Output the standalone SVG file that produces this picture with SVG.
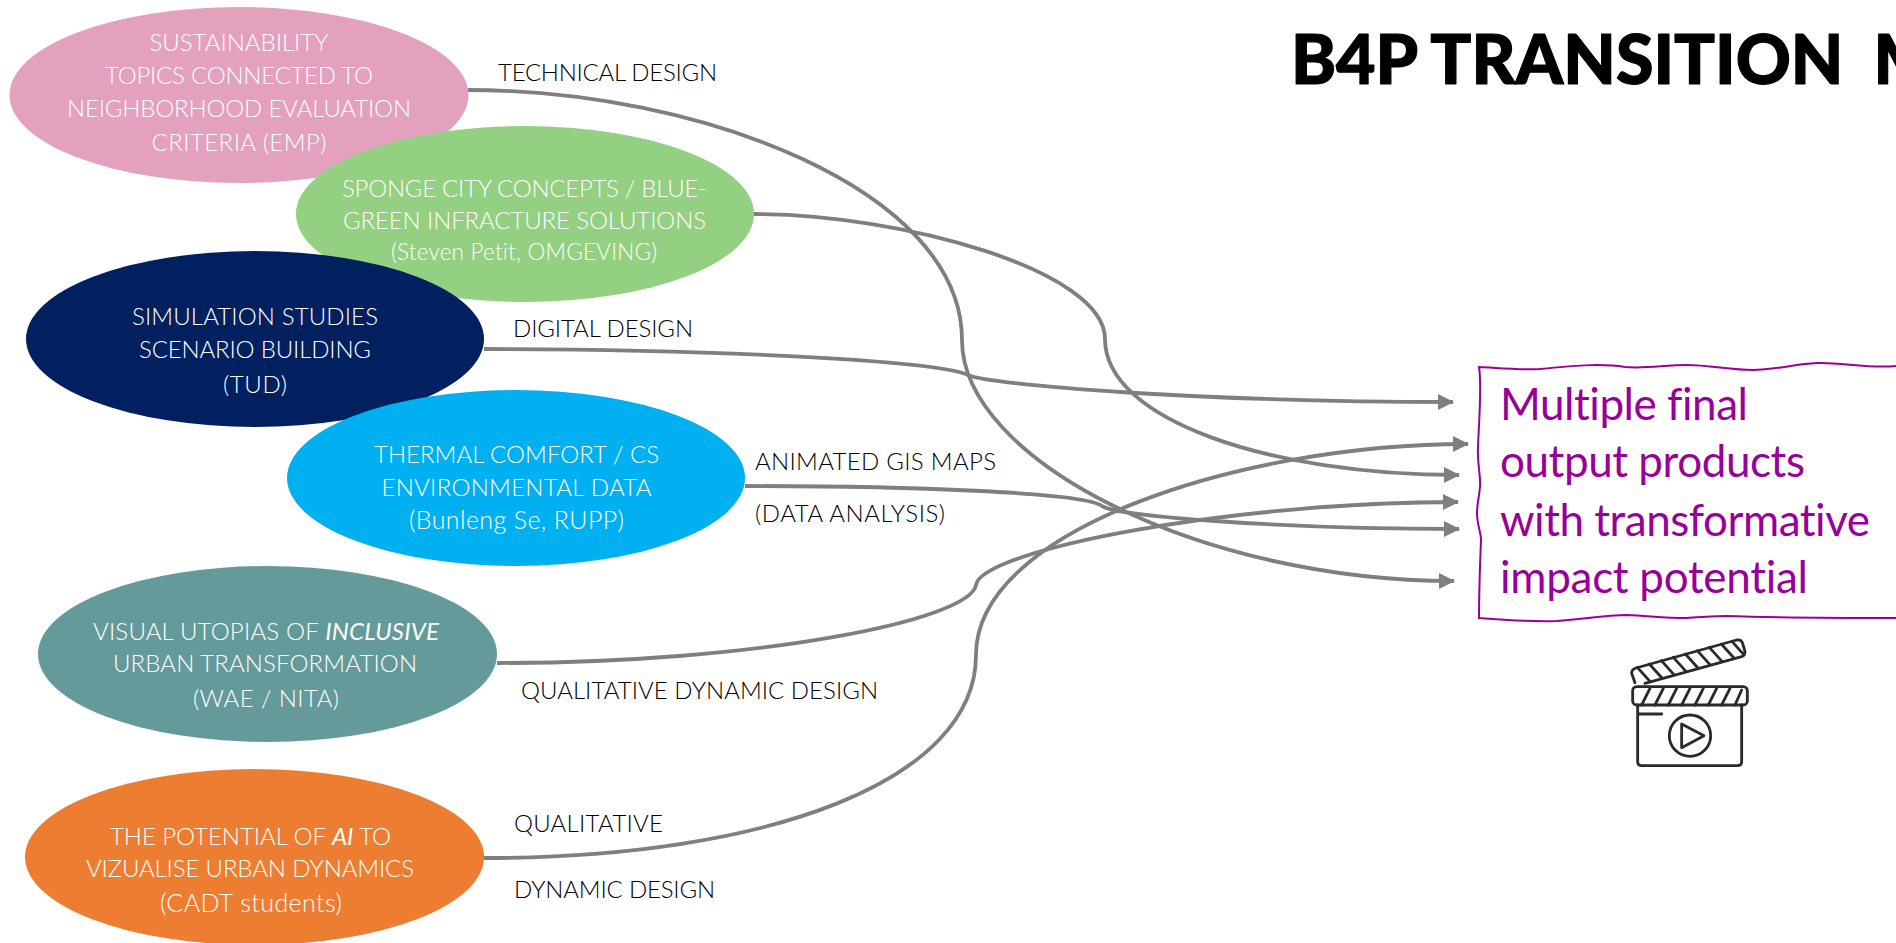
<svg xmlns="http://www.w3.org/2000/svg" width="1896" height="943" viewBox="0 0 1896 943">
<defs>
<style>
text{font-family:"Lato","Open Sans","Liberation Sans",sans-serif;font-weight:300;font-variant-ligatures:none}
.n{fill:#fff;font-size:24px;text-anchor:middle}
.s{font-size:25px}
.l{fill:#000;font-size:24px}
.c{fill:none;stroke:#7f7f7f;stroke-width:3.8;marker-end:url(#a)}
.i{fill:none;stroke:#2a2a2a;stroke-width:8.5;stroke-linecap:round;stroke-linejoin:round}
.p{fill:#990099;font-size:44px;font-weight:400}
</style>
<marker id="a" markerUnits="userSpaceOnUse" markerWidth="16" markerHeight="16" refX="15" refY="8" orient="auto"><path d="M0 0L16 8L0 16Z" fill="#7f7f7f"/></marker>
</defs>
<rect width="1896" height="943" fill="#fff"/>
<text id="title" x="1291" y="84" style="font-weight:900;font-size:68px;letter-spacing:0" fill="#000" stroke="#000" stroke-width="1.2" stroke-linejoin="round">B4P TRANSITION <tspan dx="14">M</tspan></text>
<g id="connectors">
<path class="c" d="M468 90C700 90 962 190 962 340C962 460 1200 581 1454 581"/>
<path class="c" d="M754 214C900 214 1105 270 1105 339C1105 420 1270 475 1459 475"/>
<path class="c" d="M484 349C700 349 935 360 968 375C990 385 1200 402 1453 402"/>
<path class="c" d="M745 486C900 486 1085 492 1102 506C1115 516 1280 529 1459 529"/>
<path class="c" d="M497 663C760 663 970 620 976 585C982 550 1230 502 1458 502"/>
<path class="c" d="M484 858C770 858 976 780 976 655C976 530 1240 444 1468 444"/>
</g>
<g id="n1"><ellipse cx="239" cy="95" rx="229.5" ry="88" fill="#e3a1bd"/><text class="n" x="239" y="51" textLength="179">SUSTAINABILITY</text><text class="n" x="239" y="84" textLength="268">TOPICS CONNECTED TO</text><text class="n" x="239" y="117" textLength="344">NEIGHBORHOOD EVALUATION</text><text class="n" x="239" y="151" textLength="175">CRITERIA (EMP)</text></g>
<g id="n2"><ellipse cx="525" cy="214" rx="229" ry="88" fill="#93d081"/><text class="n" x="524.5" y="197" textLength="365">SPONGE CITY CONCEPTS / BLUE-</text><text class="n" x="524.5" y="229" textLength="363">GREEN INFRACTURE SOLUTIONS</text><text class="n" style="font-size:22.5px" x="524" y="260" textLength="266">(Steven Petit, OMGEVING)</text></g>
<g id="n3"><ellipse cx="255" cy="339" rx="229" ry="88" fill="#002060"/><text class="n" x="255" y="325" textLength="246">SIMULATION STUDIES</text><text class="n" x="255" y="358" textLength="232">SCENARIO BUILDING</text><text class="n" x="255" y="393" textLength="64">(TUD)</text></g>
<g id="n4"><ellipse cx="516" cy="478" rx="229" ry="88" fill="#00b0f0"/><text class="n" x="516.5" y="463" textLength="285">THERMAL COMFORT / CS</text><text class="n" x="516.5" y="496" textLength="270">ENVIRONMENTAL DATA</text><text class="n s" x="516.5" y="529" textLength="215">(Bunleng Se, RUPP)</text></g>
<g id="n5"><ellipse cx="267.5" cy="654" rx="229.5" ry="88" fill="#659a9b"/><text class="n" x="266" y="640" textLength="346">VISUAL UTOPIAS OF <tspan font-weight="400" font-style="italic">INCLUSIVE</tspan></text><text class="n" x="265" y="672" textLength="304">URBAN TRANSFORMATION</text><text class="n" x="266" y="707" textLength="146">(WAE / NITA)</text></g>
<g id="n6"><ellipse cx="254.5" cy="857" rx="229.5" ry="88" fill="#ed7d31"/><text class="n" x="250.5" y="845" textLength="281">THE POTENTIAL OF <tspan font-weight="400" font-style="italic">AI</tspan> TO</text><text class="n" x="250" y="877" textLength="328">VIZUALISE URBAN DYNAMICS</text><text class="n s" x="251" y="912" textLength="182">(CADT students)</text></g>
<g id="labels">
<text class="l" x="498" y="81" textLength="219">TECHNICAL DESIGN</text>
<text class="l" x="513" y="337" textLength="180">DIGITAL DESIGN</text>
<text class="l" x="755" y="470" textLength="241">ANIMATED GIS MAPS</text>
<text class="l" x="755" y="522" textLength="190">(DATA ANALYSIS)</text>
<text class="l" x="521" y="699" textLength="357">QUALITATIVE DYNAMIC DESIGN</text>
<text class="l" x="514" y="832" textLength="149">QUALITATIVE</text>
<text class="l" x="514" y="898" textLength="201">DYNAMIC DESIGN</text>
</g>
<g id="output">
<path d="M1896 366C1870 369 1840 362 1817 363C1795 364 1775 370 1753 370C1730 370 1710 365 1687 365C1665 365 1645 369 1625 367C1600 363 1570 366 1540 369C1520 370 1500 368 1479 367C1482 385 1479 420 1478 447C1477 465 1481 475 1480 487C1479 497 1477 505 1477 513C1477 525 1481 532 1481 540C1480 565 1479 590 1479 618C1505 620 1535 622 1557 621C1585 619 1605 615 1627 615C1650 616 1665 618 1687 618C1700 617 1710 616 1725 616C1790 618 1850 618 1896 618" fill="none" stroke="#990099" stroke-width="2"/>
<text class="p" x="1500" y="420" textLength="248">Multiple final</text>
<text class="p" x="1500" y="477" textLength="305">output products</text>
<text class="p" x="1500" y="536" textLength="370">with transformative</text>
<text class="p" x="1500" y="593" textLength="308">impact potential</text>
</g>
<g id="clapper" transform="translate(1600 620) scale(.3333)">
<path class="i" d="M105 188L95 160Q95 148 108 144L410 60Q424 58 428 70L435 95Q435 106 425 110L135 190"/>
<path class="i" d="M112 142L150 184M148 132L186 174M184 122L222 164M220 112L258 154M256 102L294 144M292 92L330 134M328 82L366 124M364 72L402 114M396 64L428 100"/>
<rect class="i" x="98" y="200" width="344" height="55" rx="12"/>
<path class="i" d="M125 255L150 205M165 255L190 205M205 255L230 205M245 255L270 205M285 255L310 205M325 255L350 205M365 255L390 205M405 255L425 210"/>
<path class="i" d="M113 255V425Q113 437 125 437H413Q425 437 425 425V255M118 282H185"/>
<circle class="i" cx="270" cy="347" r="62"/>
<path class="i" d="M245 312V383L312 347Z"/>
</g>
</svg>
